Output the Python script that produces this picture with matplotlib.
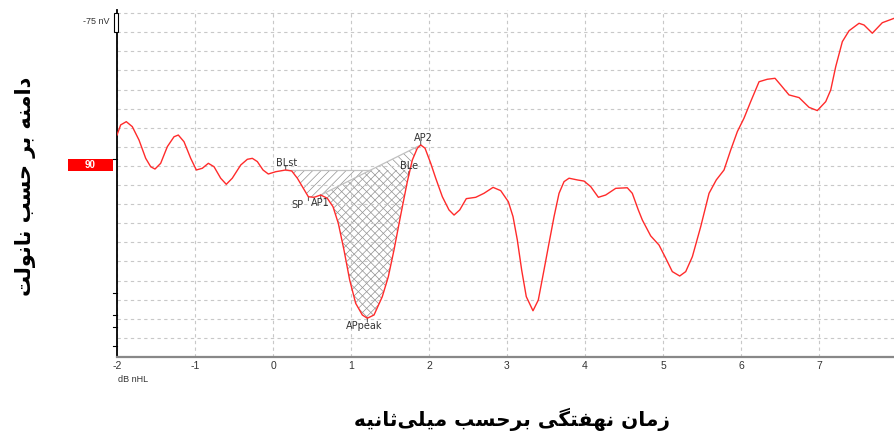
import numpy as np
import matplotlib
matplotlib.use('Agg')
import matplotlib.pyplot as plt
from matplotlib.patches import Rectangle

plt.rcParams['axes.unicode_minus'] = False
plt.rcParams['hatch.linewidth'] = 0.5

# latency (ms) and amplitude (grid divisions)
t_ms = [-2.00, -1.953, -1.881, -1.804, -1.718, -1.632, -1.568, -1.513, -1.440, -1.355,
        -1.269, -1.214, -1.141, -1.055, -0.983, -0.906, -0.829, -0.756, -0.671, -0.599,
        -0.522, -0.414, -0.329, -0.265, -0.201, -0.128, -0.060, 0.035, 0.163, 0.240,
        0.312, 0.376, 0.453, 0.526, 0.612, 0.696, 0.769, 0.837, 0.910, 0.983,
        1.060, 1.145, 1.209, 1.295, 1.401, 1.478, 1.551, 1.637, 1.722, 1.786,
        1.850, 1.894, 1.949, 2.022, 2.086, 2.171, 2.256, 2.321, 2.394, 2.478,
        2.599, 2.705, 2.821, 2.919, 3.017, 3.077, 3.132, 3.188, 3.247, 3.333,
        3.401, 3.474, 3.538, 3.603, 3.667, 3.731, 3.795, 3.901, 3.987, 4.073,
        4.171, 4.265, 4.394, 4.542, 4.606, 4.683, 4.735, 4.842, 4.949, 5.035,
        5.119, 5.214, 5.291, 5.376, 5.483, 5.590, 5.683, 5.782, 5.868, 5.953,
        6.038, 6.124, 6.231, 6.337, 6.436, 6.509, 6.615, 6.744, 6.872, 6.978,
        7.086, 7.150, 7.214, 7.299, 7.385, 7.513, 7.577, 7.683, 7.811, 7.962]
amp = [11.62, 12.15, 12.32, 12.06, 11.36, 10.40, 9.96, 9.84, 10.14, 11.01,
       11.53, 11.62, 11.27, 10.40, 9.79, 9.88, 10.14, 9.96, 9.36, 9.04,
       9.36, 10.05, 10.35, 10.40, 10.23, 9.79, 9.58, 9.70, 9.79, 9.74,
       9.36, 8.92, 8.39, 8.36, 8.48, 8.31, 7.87, 7.00, 5.60, 4.03,
       2.81, 2.20, 2.03, 2.20, 3.16, 4.20, 5.60, 7.43, 9.18, 10.31,
       10.93, 11.10, 10.93, 10.14, 9.36, 8.39, 7.70, 7.43, 7.70, 8.29,
       8.36, 8.57, 8.88, 8.71, 8.13, 7.35, 6.13, 4.55, 3.16, 2.42,
       2.98, 4.55, 5.95, 7.35, 8.57, 9.18, 9.36, 9.27, 9.21, 8.92,
       8.36, 8.48, 8.83, 8.86, 8.57, 7.70, 7.17, 6.34, 5.86, 5.17,
       4.47, 4.24, 4.47, 5.25, 6.82, 8.57, 9.27, 9.79, 10.84, 11.80,
       12.50, 13.37, 14.41, 14.54, 14.59, 14.24, 13.72, 13.58, 13.07, 12.90,
       13.37, 13.98, 15.20, 16.51, 17.08, 17.47, 17.38, 16.95, 17.50, 17.73]

# markers: name, latency, amplitude
mark_names = ['BLst', 'SP', 'AP1', 'APpeak', 'AP2', 'BLe']
mark_t = [0.163, 0.453, 0.612, 1.209, 1.894, 1.74]
mark_a = [9.79, 8.39, 8.48, 2.03, 11.10, 9.50]

xticks = [-2, -1, 0, 1, 2, 3, 4, 5, 6, 7]
y_side_ticks = [10.37, 3.35, 2.20, 1.57, 0.58]

ylabel_fa = 'دامنه بر حسب نانولت'
xlabel_fa = 'زمان نهفتگی برحسب میلی\u200cثانیه'

# minimal Persian shaping (matplotlib has no bidi / joining support)
FORMS = {
    'ا': ('\uFE8D', '\uFE8E', None, None), 'ب': ('\uFE8F', '\uFE90', '\uFE91', '\uFE92'),
    'ت': ('\uFE95', '\uFE96', '\uFE97', '\uFE98'), 'ث': ('\uFE99', '\uFE9A', '\uFE9B', '\uFE9C'),
    'ح': ('\uFEA1', '\uFEA2', '\uFEA3', '\uFEA4'), 'د': ('\uFEA9', '\uFEAA', None, None),
    'ر': ('\uFEAD', '\uFEAE', None, None), 'ز': ('\uFEAF', '\uFEB0', None, None),
    'س': ('\uFEB1', '\uFEB2', '\uFEB3', '\uFEB4'), 'ف': ('\uFED1', '\uFED2', '\uFED3', '\uFED4'),
    'ل': ('\uFEDD', '\uFEDE', '\uFEDF', '\uFEE0'), 'م': ('\uFEE1', '\uFEE2', '\uFEE3', '\uFEE4'),
    'ن': ('\uFEE5', '\uFEE6', '\uFEE7', '\uFEE8'), 'ه': ('\uFEE9', '\uFEEA', '\uFEEB', '\uFEEC'),
    'و': ('\uFEED', '\uFEEE', None, None), 'گ': ('\uFB92', '\uFB93', '\uFB94', '\uFB95'),
    'ی': ('\uFBFC', '\uFBFD', '\uFBFE', '\uFBFF'),
}


def shape_fa(s):
    out = []
    for i, ch in enumerate(s):
        if ch not in FORMS:
            if ch != '\u200c':
                out.append(ch)
            continue
        prev = s[i - 1] if i > 0 else ''
        nxt = s[i + 1] if i + 1 < len(s) else ''
        jp = prev in FORMS and FORMS[prev][2] is not None
        jn = FORMS[ch][2] is not None and nxt in FORMS
        iso, fin, ini, med = FORMS[ch]
        if jp and jn:
            out.append(med)
        elif jp:
            out.append(fin)
        elif jn:
            out.append(ini)
        else:
            out.append(iso)
    return ''.join(out[::-1])


t = np.array(t_ms)
a = np.array(amp)

fig = plt.figure(figsize=(8.95, 4.32), dpi=100)
ax = fig.add_axes([117 / 895, 75 / 432, 778 / 895, 346.7 / 432])
ax.set_xlim(-2, 7.974)
ax.set_ylim(0, 18.15)

ax.set_xticks(xticks)
ax.set_yticks(np.arange(1, 19))
ax.grid(True, color='#c8c8c8', linestyle=(0, (3, 3)), linewidth=0.8)
ax.tick_params(axis='x', length=0, pad=3, labelsize=7.5, labelcolor='#333333')
ax.tick_params(axis='y', length=0, labelleft=False)
for s in ['top', 'right']:
    ax.spines[s].set_visible(False)
ax.spines['left'].set_color('black')
ax.spines['left'].set_linewidth(1.3)
ax.spines['bottom'].set_color('#888888')
ax.spines['bottom'].set_linewidth(1.6)
for lab in ax.get_xticklabels():
    lab.set_fontfamily('Liberation Sans')

# small ticks on the left spine
for yt in y_side_ticks:
    ax.plot([-2.05, -2.0], [yt, yt], color='black', lw=0.8, clip_on=False)

# hatched areas
bl = mark_a[0]
x_ap1, y_ap1 = mark_t[2], mark_a[2]
x_ap2, y_ap2 = mark_t[4], mark_a[4]
diag = y_ap1 + (t - x_ap1) * (y_ap2 - y_ap1) / (x_ap2 - x_ap1)
x_cross = x_ap1 + (bl - y_ap1) * (x_ap2 - x_ap1) / (y_ap2 - y_ap1)

ax.fill_between(t, a, bl, where=(t >= mark_t[0]) & (t <= x_ap2) & (a <= bl),
                interpolate=True, facecolor='none', edgecolor='#909090', hatch='////', lw=0)
ax.fill_between(t, a, diag, where=(t >= x_ap1) & (t <= x_ap2),
                facecolor='none', edgecolor='#909090', hatch='\\\\\\\\', lw=0)
ax.plot([mark_t[0], x_cross], [bl, bl], color='#c0c0c0', lw=0.9)
ax.plot([x_ap1, x_ap2], [y_ap1, y_ap2], color='#c0c0c0', lw=0.9)

ax.plot(t, a, color='#ff2b2b', lw=1.0, zorder=5)

# marker labels (offsets in pixels)
label_off = {'BLst': (-10, 7, 'left'), 'SP': (-5, -8, 'right'), 'AP1': (-10, -8, 'left'),
             'APpeak': (-3, -8, 'center'), 'AP2': (3, 7, 'center'), 'BLe': (0, 10, 'center')}
for name, mx, my in zip(mark_names, mark_t, mark_a):
    dx, dy, ha = label_off[name]
    ax.annotate(name, (mx, my), xytext=(dx, dy), textcoords='offset pixels',
                ha=ha, va='center', fontsize=7, color='#333333', zorder=6,
                family='DejaVu Sans')
    tick_dy = 4 if dy > 0 else -4
    ax.annotate('', (mx, my), xytext=(0, tick_dy), textcoords='offset pixels',
                arrowprops=dict(arrowstyle='-', color='#333333', lw=0.6,
                                shrinkA=0, shrinkB=0))

# scale bar and red level box
fig.patches.append(Rectangle((114 / 895, (432 - 32) / 432), 4 / 895, 19 / 432,
                             transform=fig.transFigure, facecolor='white',
                             edgecolor='black', lw=0.8, zorder=5))
fig.text(110 / 895, (432 - 22) / 432, '-75 nV', ha='right', va='center',
         fontsize=6.5, color='#333333', family='Liberation Sans')
fig.patches.append(Rectangle((68 / 895, (432 - 171) / 432), 45 / 895, 12 / 432,
                             transform=fig.transFigure, facecolor='#ff0000',
                             edgecolor='none', zorder=5))
fig.text(90.5 / 895, (432 - 165) / 432, '90', ha='center', va='center',
         fontsize=7, color='white', fontweight='bold', family='Liberation Sans', zorder=6)

fig.text(118 / 895, (432 - 379) / 432, 'dB nHL', ha='left', va='center',
         fontsize=6.5, color='#333333', family='Liberation Sans')

fig.text(26 / 895, (432 - 186) / 432, shape_fa(ylabel_fa), rotation=90,
         ha='center', va='center', fontsize=15, fontweight='bold', family='DejaVu Sans')
fig.text(512 / 895, (432 - 419) / 432, shape_fa(xlabel_fa),
         ha='center', va='center', fontsize=14.5, fontweight='bold', family='DejaVu Sans')

fig.savefig('out.png', dpi=100)
